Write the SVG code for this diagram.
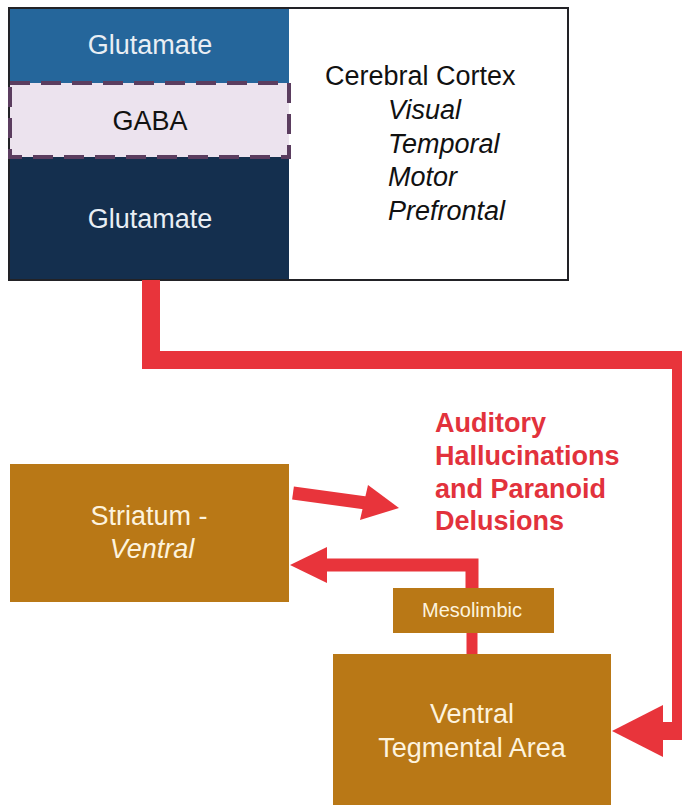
<svg xmlns="http://www.w3.org/2000/svg" width="682" height="805" viewBox="0 0 682 805">
<style>
.t{font-family:"Liberation Sans",Arial,sans-serif;font-size:27px;text-anchor:middle}
.lt{fill:#e9eef4}
.cr{fill:#fdf3de}
.it{font-style:italic}
.brown{fill:#b97816}
.red{fill:#e8343b}
.rl{fill:none;stroke:#e8343b}
.red-t{font-family:"Liberation Sans",Arial,sans-serif;font-size:27px;font-weight:bold;fill:#e2323c}
</style>
<rect width="682" height="805" fill="#ffffff"/>
<g id="cortex">
<rect x="9" y="8" width="559" height="272" fill="#ffffff" stroke="#222226" stroke-width="2"/>
<rect x="10" y="9" width="279" height="74" fill="#25669b"/>
<rect x="10" y="157" width="279" height="122" fill="#142f4e"/>
<text class="t lt" x="150" y="54">Glutamate</text>
<text class="t lt" x="150" y="228">Glutamate</text>
<text x="325" y="85" font-family="Liberation Sans, Arial, sans-serif" font-size="27" fill="#111">Cerebral Cortex</text>
<g font-family="Liberation Sans, Arial, sans-serif" font-size="27" font-style="italic" fill="#111">
<text x="388" y="119">Visual</text>
<text x="388" y="153">Temporal</text>
<text x="388" y="186">Motor</text>
<text x="388" y="220">Prefrontal</text>
</g>
</g>
<g id="gaba">
<rect x="10" y="83" width="279" height="74" fill="#ece3ee" stroke="#5b3d5f" stroke-width="4" stroke-dasharray="20,11"/>
<text class="t" x="150" y="130" fill="#111">GABA</text>
</g>
<g id="striatum">
<rect class="brown" x="10" y="464" width="279" height="138"/>
<text class="t cr" x="149" y="525">Striatum -</text>
<text class="t cr it" x="152" y="558">Ventral</text>
</g>
<g id="mesolimbic">
<rect class="brown" x="393" y="588" width="161" height="45"/>
<text class="t cr" x="472" y="617" style="font-size:20px">Mesolimbic</text>
</g>
<g id="vta">
<rect class="brown" x="333" y="654" width="278" height="151"/>
<text class="t cr" x="472" y="723">Ventral</text>
<text class="t cr" x="472" y="757">Tegmental Area</text>
</g>
<g id="effect">
<text class="red-t" x="435" y="432">Auditory</text>
<text class="red-t" x="435" y="465">Hallucinations</text>
<text class="red-t" x="435" y="498">and Paranoid</text>
<text class="red-t" x="435" y="530">Delusions</text>
</g>
<g id="connectors">
<path class="rl" d="M151 280 V360 H681 V731 H660" stroke-width="18"/>
<polygon class="red" points="612,731 663,705 663,757"/>
<path class="rl" d="M472 654 V633" stroke-width="11"/>
<path class="rl" d="M472 588 V565 H322" stroke-width="13"/>
<polygon class="red" points="290,565 327,547 327,583"/>
<line class="rl" x1="293" y1="493" x2="366" y2="503" stroke-width="13"/>
<polygon class="red" points="368,485 399,508 360,520"/>
</g>
</svg>
